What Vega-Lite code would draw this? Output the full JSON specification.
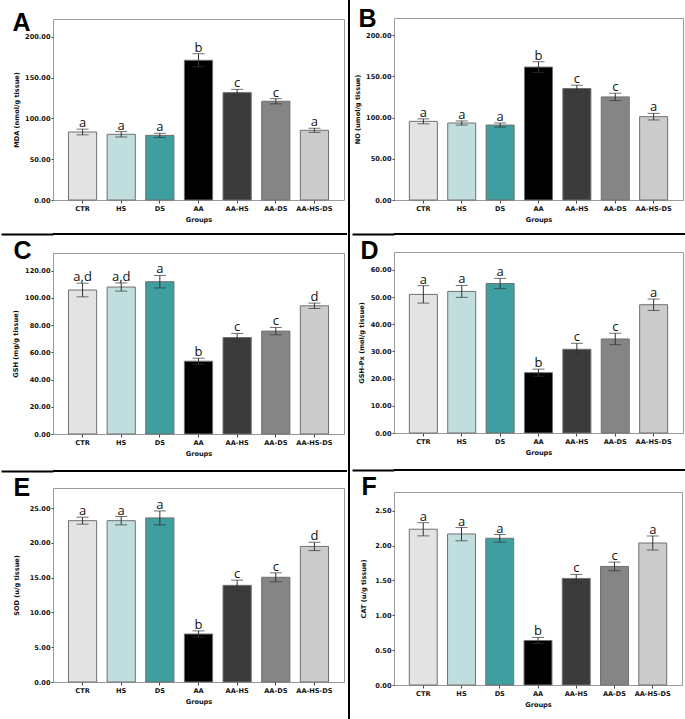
{
"$schema":"https://vega.github.io/schema/vega-lite/v6.json",
"padding":{"left":0,"top":0,"right":0,"bottom":0},
"background":"white",
"datasets":{
"A":[{"group":"CTR","mean":83.4,"lo":79.9,"hi":86.9,"letter":"a"},{"group":"HS","mean":80.6,"lo":77.3,"hi":83.9,"letter":"a"},{"group":"DS","mean":79.3,"lo":76.8,"hi":81.8,"letter":"a"},{"group":"AA","mean":171.4,"lo":163.4,"hi":179.4,"letter":"b"},{"group":"AA-HS","mean":131.7,"lo":127.7,"hi":135.7,"letter":"c"},{"group":"AA-DS","mean":121.1,"lo":117.9,"hi":124.3,"letter":"c"},{"group":"AA-HS-DS","mean":85.5,"lo":83,"hi":88,"letter":"a"}],
"B":[{"group":"CTR","mean":95.5,"lo":92.5,"hi":98.5,"letter":"a"},{"group":"HS","mean":93.5,"lo":91,"hi":96,"letter":"a"},{"group":"DS","mean":91,"lo":88.5,"hi":93.5,"letter":"a"},{"group":"AA","mean":161.4,"lo":154.9,"hi":167.9,"letter":"b"},{"group":"AA-HS","mean":135.4,"lo":131.4,"hi":139.4,"letter":"c"},{"group":"AA-DS","mean":125.2,"lo":120.7,"hi":129.7,"letter":"c"},{"group":"AA-HS-DS","mean":101.2,"lo":97.2,"hi":105.2,"letter":"a"}],
"C":[{"group":"CTR","mean":105.8,"lo":100.8,"hi":110.8,"letter":"a,d"},{"group":"HS","mean":108,"lo":105,"hi":111,"letter":"a,d"},{"group":"DS","mean":111.9,"lo":107.3,"hi":116.5,"letter":"a"},{"group":"AA","mean":53.5,"lo":51.3,"hi":55.7,"letter":"b"},{"group":"AA-HS","mean":70.9,"lo":67.9,"hi":73.9,"letter":"c"},{"group":"AA-DS","mean":75.6,"lo":72.9,"hi":78.3,"letter":"c"},{"group":"AA-HS-DS","mean":94.2,"lo":92.2,"hi":96.2,"letter":"d"}],
"D":[{"group":"CTR","mean":51,"lo":47.8,"hi":54.2,"letter":"a"},{"group":"HS","mean":52.1,"lo":49.9,"hi":54.3,"letter":"a"},{"group":"DS","mean":55,"lo":53.1,"hi":56.9,"letter":"a"},{"group":"AA","mean":22.2,"lo":20.9,"hi":23.5,"letter":"b"},{"group":"AA-HS","mean":30.8,"lo":28.6,"hi":33,"letter":"c"},{"group":"AA-DS","mean":34.6,"lo":32.5,"hi":36.7,"letter":"c"},{"group":"AA-HS-DS","mean":47.2,"lo":45.1,"hi":49.3,"letter":"a"}],
"E":[{"group":"CTR","mean":23.2,"lo":22.7,"hi":23.7,"letter":"a"},{"group":"HS","mean":23.2,"lo":22.6,"hi":23.8,"letter":"a"},{"group":"DS","mean":23.6,"lo":22.6,"hi":24.6,"letter":"a"},{"group":"AA","mean":6.9,"lo":6.45,"hi":7.35,"letter":"b"},{"group":"AA-HS","mean":13.9,"lo":13.15,"hi":14.65,"letter":"c"},{"group":"AA-DS","mean":15.06,"lo":14.4,"hi":15.7,"letter":"c"},{"group":"AA-HS-DS","mean":19.5,"lo":18.9,"hi":20.1,"letter":"d"}],
"F":[{"group":"CTR","mean":2.236,"lo":2.14,"hi":2.33,"letter":"a"},{"group":"HS","mean":2.168,"lo":2.07,"hi":2.26,"letter":"a"},{"group":"DS","mean":2.106,"lo":2.05,"hi":2.16,"letter":"a"},{"group":"AA","mean":0.639,"lo":0.595,"hi":0.683,"letter":"b"},{"group":"AA-HS","mean":1.529,"lo":1.47,"hi":1.587,"letter":"c"},{"group":"AA-DS","mean":1.702,"lo":1.64,"hi":1.764,"letter":"c"},{"group":"AA-HS-DS","mean":2.038,"lo":1.938,"hi":2.139,"letter":"a"}],
"blank":[{}]
},
"concat":[
{"concat":[
 {"width":294,"height":7,"data":{"name":"blank"},"mark":{"type":"point","size":0,"opacity":0},"view":{"stroke":null}},
 {"width":291,"height":181,"data":{"name":"A"},"resolve":{"axis":{"x":"independent"}},
  "layer":[
   {"mark":{"type":"bar","stroke":"#707070","strokeWidth":1},"encoding":{"x":{"field":"group","type":"nominal","sort":["CTR","HS","DS","AA","AA-HS","AA-DS","AA-HS-DS"],"scale":{"paddingInner":0.27,"paddingOuter":0.4},"axis":{"title":"Groups","labelAngle":0,"tickSize":3,"labelPadding":2,"titlePadding":5}},"y":{"field":"mean","type":"quantitative","title":"MDA (nmol/g tissue)","scale":{"domain":[0,222],"nice":false},"axis":{"values":[0,50,100,150,200],"format":".2f","tickSize":2,"labelPadding":1,"titlePadding":5,"labelOverlap":false}},"color":{"field":"group","type":"nominal","scale":{"domain":["CTR","HS","DS","AA","AA-HS","AA-DS","AA-HS-DS"],"range":["#e3e3e3","#c0dede","#3f9ea0","#000000","#3b3b3b","#858585","#cbcbcb"]},"legend":null}}},
   {"mark":{"type":"errorbar","ticks":{"size":12,"color":"#333"},"rule":{"color":"#333"}},"encoding":{"x":{"field":"group","type":"nominal","sort":["CTR","HS","DS","AA","AA-HS","AA-DS","AA-HS-DS"],"axis":null},"y":{"field":"lo","type":"quantitative","title":"MDA (nmol/g tissue)","axis":{"values":[0,50,100,150,200],"format":".2f","tickSize":2,"labelPadding":1,"titlePadding":5,"labelOverlap":false}},"y2":{"field":"hi"}}},
   {"mark":{"type":"text","baseline":"alphabetic","dy":-2,"font":"Open Sans","fontSize":13,"color":"#111"},"encoding":{"x":{"field":"group","type":"nominal","sort":["CTR","HS","DS","AA","AA-HS","AA-DS","AA-HS-DS"],"axis":{"orient":"top","title":"A","labels":false,"ticks":false,"domain":false,"titleX":-41,"titleY":11,"titleAngle":0,"titleAlign":"left","titleBaseline":"alphabetic","titleFont":"Liberation Sans","titleFontSize":25,"titleFontWeight":"bold","titleColor":"#000"}},"y":{"field":"hi","type":"quantitative","title":"MDA (nmol/g tissue)","axis":{"values":[0,50,100,150,200],"format":".2f","tickSize":2,"labelPadding":1,"titlePadding":5,"labelOverlap":false}},"text":{"field":"letter"}}}
  ]},
 {"width":294,"height":2,"data":{"name":"blank"},"mark":{"type":"point","size":0,"opacity":0},"encoding":{"y":{"datum":0.5,"type":"quantitative","scale":{"domain":[0,1]},"axis":{"values":[0.5],"tickSize":52,"tickWidth":2,"tickColor":"#000","labels":false,"domain":false,"title":null}}},"view":{"fill":"black","stroke":null},"title":{"text":".","color":"white","fontSize":5,"offset":2}},
 {"width":291,"height":181,"data":{"name":"C"},"resolve":{"axis":{"x":"independent"}},
  "layer":[
   {"mark":{"type":"bar","stroke":"#707070","strokeWidth":1},"encoding":{"x":{"field":"group","type":"nominal","sort":["CTR","HS","DS","AA","AA-HS","AA-DS","AA-HS-DS"],"scale":{"paddingInner":0.27,"paddingOuter":0.4},"axis":{"title":"Groups","labelAngle":0,"tickSize":3,"labelPadding":2,"titlePadding":5}},"y":{"field":"mean","type":"quantitative","title":"GSH (mg/g tissue)","scale":{"domain":[0,133],"nice":false},"axis":{"values":[0,20,40,60,80,100,120],"format":".2f","tickSize":2,"labelPadding":1,"titlePadding":6,"labelOverlap":false}},"color":{"field":"group","type":"nominal","scale":{"domain":["CTR","HS","DS","AA","AA-HS","AA-DS","AA-HS-DS"],"range":["#e3e3e3","#c0dede","#3f9ea0","#000000","#3b3b3b","#858585","#cbcbcb"]},"legend":null}}},
   {"mark":{"type":"errorbar","ticks":{"size":12,"color":"#333"},"rule":{"color":"#333"}},"encoding":{"x":{"field":"group","type":"nominal","sort":["CTR","HS","DS","AA","AA-HS","AA-DS","AA-HS-DS"],"axis":null},"y":{"field":"lo","type":"quantitative","title":"GSH (mg/g tissue)","axis":{"values":[0,20,40,60,80,100,120],"format":".2f","tickSize":2,"labelPadding":1,"titlePadding":6,"labelOverlap":false}},"y2":{"field":"hi"}}},
   {"mark":{"type":"text","baseline":"alphabetic","dy":-2,"font":"Open Sans","fontSize":13,"color":"#111"},"encoding":{"x":{"field":"group","type":"nominal","sort":["CTR","HS","DS","AA","AA-HS","AA-DS","AA-HS-DS"],"axis":{"orient":"top","title":"C","labels":false,"ticks":false,"domain":false,"titleX":-40,"titleY":5,"titleAngle":0,"titleAlign":"left","titleBaseline":"alphabetic","titleFont":"Liberation Sans","titleFontSize":25,"titleFontWeight":"bold","titleColor":"#000"}},"y":{"field":"hi","type":"quantitative","title":"GSH (mg/g tissue)","axis":{"values":[0,20,40,60,80,100,120],"format":".2f","tickSize":2,"labelPadding":1,"titlePadding":6,"labelOverlap":false}},"text":{"field":"letter"}}}
  ]},
 {"width":294,"height":2,"data":{"name":"blank"},"mark":{"type":"point","size":0,"opacity":0},"encoding":{"y":{"datum":0.5,"type":"quantitative","scale":{"domain":[0,1]},"axis":{"values":[0.5],"tickSize":52,"tickWidth":2,"tickColor":"#000","labels":false,"domain":false,"title":null}}},"view":{"fill":"black","stroke":null},"title":{"text":".","color":"white","fontSize":8,"offset":2}},
 {"width":291,"height":194,"data":{"name":"E"},"resolve":{"axis":{"x":"independent"}},
  "layer":[
   {"mark":{"type":"bar","stroke":"#707070","strokeWidth":1},"encoding":{"x":{"field":"group","type":"nominal","sort":["CTR","HS","DS","AA","AA-HS","AA-DS","AA-HS-DS"],"scale":{"paddingInner":0.27,"paddingOuter":0.4},"axis":{"title":"Groups","labelAngle":0,"tickSize":3,"labelPadding":2,"titlePadding":5}},"y":{"field":"mean","type":"quantitative","title":"SOD (u/g tissue)","scale":{"domain":[0,27.9],"nice":false},"axis":{"values":[0,5,10,15,20,25],"format":".2f","tickSize":2,"labelPadding":1,"titlePadding":10,"labelOverlap":false}},"color":{"field":"group","type":"nominal","scale":{"domain":["CTR","HS","DS","AA","AA-HS","AA-DS","AA-HS-DS"],"range":["#e3e3e3","#c0dede","#3f9ea0","#000000","#3b3b3b","#858585","#cbcbcb"]},"legend":null}}},
   {"mark":{"type":"errorbar","ticks":{"size":12,"color":"#333"},"rule":{"color":"#333"}},"encoding":{"x":{"field":"group","type":"nominal","sort":["CTR","HS","DS","AA","AA-HS","AA-DS","AA-HS-DS"],"axis":null},"y":{"field":"lo","type":"quantitative","title":"SOD (u/g tissue)","axis":{"values":[0,5,10,15,20,25],"format":".2f","tickSize":2,"labelPadding":1,"titlePadding":10,"labelOverlap":false}},"y2":{"field":"hi"}}},
   {"mark":{"type":"text","baseline":"alphabetic","dy":-2,"font":"Open Sans","fontSize":13,"color":"#111"},"encoding":{"x":{"field":"group","type":"nominal","sort":["CTR","HS","DS","AA","AA-HS","AA-DS","AA-HS-DS"],"axis":{"orient":"top","title":"E","labels":false,"ticks":false,"domain":false,"titleX":-40,"titleY":7,"titleAngle":0,"titleAlign":"left","titleBaseline":"alphabetic","titleFont":"Liberation Sans","titleFontSize":25,"titleFontWeight":"bold","titleColor":"#000"}},"y":{"field":"hi","type":"quantitative","title":"SOD (u/g tissue)","axis":{"values":[0,5,10,15,20,25],"format":".2f","tickSize":2,"labelPadding":1,"titlePadding":10,"labelOverlap":false}},"text":{"field":"letter"}}}
  ]}
],"columns":1,"align":"none","spacing":2},
{"width":2,"height":719,"data":{"name":"blank"},"mark":{"type":"point","size":0,"opacity":0},"view":{"fill":"black","stroke":null}},
{"concat":[
 {"width":293,"height":3,"data":{"name":"blank"},"mark":{"type":"point","size":0,"opacity":0},"view":{"stroke":null}},
 {"width":289,"height":182,"data":{"name":"B"},"resolve":{"axis":{"x":"independent"}},
  "layer":[
   {"mark":{"type":"bar","stroke":"#707070","strokeWidth":1},"encoding":{"x":{"field":"group","type":"nominal","sort":["CTR","HS","DS","AA","AA-HS","AA-DS","AA-HS-DS"],"scale":{"paddingInner":0.27,"paddingOuter":0.4},"axis":{"title":"Groups","labelAngle":0,"tickSize":3,"labelPadding":2,"titlePadding":5}},"y":{"field":"mean","type":"quantitative","title":"NO (umol/g tissue)","scale":{"domain":[0,221],"nice":false},"axis":{"values":[0,50,100,150,200],"format":".2f","tickSize":2,"labelPadding":1,"titlePadding":5,"labelOverlap":false}},"color":{"field":"group","type":"nominal","scale":{"domain":["CTR","HS","DS","AA","AA-HS","AA-DS","AA-HS-DS"],"range":["#e3e3e3","#c0dede","#3f9ea0","#000000","#3b3b3b","#858585","#cbcbcb"]},"legend":null}}},
   {"mark":{"type":"errorbar","ticks":{"size":12,"color":"#333"},"rule":{"color":"#333"}},"encoding":{"x":{"field":"group","type":"nominal","sort":["CTR","HS","DS","AA","AA-HS","AA-DS","AA-HS-DS"],"axis":null},"y":{"field":"lo","type":"quantitative","title":"NO (umol/g tissue)","axis":{"values":[0,50,100,150,200],"format":".2f","tickSize":2,"labelPadding":1,"titlePadding":5,"labelOverlap":false}},"y2":{"field":"hi"}}},
   {"mark":{"type":"text","baseline":"alphabetic","dy":-2,"font":"Open Sans","fontSize":13,"color":"#111"},"encoding":{"x":{"field":"group","type":"nominal","sort":["CTR","HS","DS","AA","AA-HS","AA-DS","AA-HS-DS"],"axis":{"orient":"top","title":"B","labels":false,"ticks":false,"domain":false,"titleX":-36,"titleY":8,"titleAngle":0,"titleAlign":"left","titleBaseline":"alphabetic","titleFont":"Liberation Sans","titleFontSize":25,"titleFontWeight":"bold","titleColor":"#000"}},"y":{"field":"hi","type":"quantitative","title":"NO (umol/g tissue)","axis":{"values":[0,50,100,150,200],"format":".2f","tickSize":2,"labelPadding":1,"titlePadding":5,"labelOverlap":false}},"text":{"field":"letter"}}}
  ]},
 {"width":293,"height":2,"data":{"name":"blank"},"mark":{"type":"point","size":0,"opacity":0},"encoding":{"y":{"datum":0.5,"type":"quantitative","scale":{"domain":[0,1]},"axis":{"values":[0.5],"tickSize":42,"tickWidth":2,"tickColor":"#000","labels":false,"domain":false,"title":null}}},"view":{"fill":"black","stroke":null},"title":{"text":".","color":"white","fontSize":5,"offset":2}},
 {"width":289,"height":181,"data":{"name":"D"},"resolve":{"axis":{"x":"independent"}},
  "layer":[
   {"mark":{"type":"bar","stroke":"#707070","strokeWidth":1},"encoding":{"x":{"field":"group","type":"nominal","sort":["CTR","HS","DS","AA","AA-HS","AA-DS","AA-HS-DS"],"scale":{"paddingInner":0.27,"paddingOuter":0.4},"axis":{"title":"Groups","labelAngle":0,"tickSize":3,"labelPadding":2,"titlePadding":5}},"y":{"field":"mean","type":"quantitative","title":"GSH-Px (mol/g tissue)","scale":{"domain":[0,66.6],"nice":false},"axis":{"values":[0,10,20,30,40,50,60],"format":".2f","tickSize":2,"labelPadding":1,"titlePadding":6,"labelOverlap":false}},"color":{"field":"group","type":"nominal","scale":{"domain":["CTR","HS","DS","AA","AA-HS","AA-DS","AA-HS-DS"],"range":["#e3e3e3","#c0dede","#3f9ea0","#000000","#3b3b3b","#858585","#cbcbcb"]},"legend":null}}},
   {"mark":{"type":"errorbar","ticks":{"size":12,"color":"#333"},"rule":{"color":"#333"}},"encoding":{"x":{"field":"group","type":"nominal","sort":["CTR","HS","DS","AA","AA-HS","AA-DS","AA-HS-DS"],"axis":null},"y":{"field":"lo","type":"quantitative","title":"GSH-Px (mol/g tissue)","axis":{"values":[0,10,20,30,40,50,60],"format":".2f","tickSize":2,"labelPadding":1,"titlePadding":6,"labelOverlap":false}},"y2":{"field":"hi"}}},
   {"mark":{"type":"text","baseline":"alphabetic","dy":-2,"font":"Open Sans","fontSize":13,"color":"#111"},"encoding":{"x":{"field":"group","type":"nominal","sort":["CTR","HS","DS","AA","AA-HS","AA-DS","AA-HS-DS"],"axis":{"orient":"top","title":"D","labels":false,"ticks":false,"domain":false,"titleX":-34,"titleY":6,"titleAngle":0,"titleAlign":"left","titleBaseline":"alphabetic","titleFont":"Liberation Sans","titleFontSize":25,"titleFontWeight":"bold","titleColor":"#000"}},"y":{"field":"hi","type":"quantitative","title":"GSH-Px (mol/g tissue)","axis":{"values":[0,10,20,30,40,50,60],"format":".2f","tickSize":2,"labelPadding":1,"titlePadding":6,"labelOverlap":false}},"text":{"field":"letter"}}}
  ]},
 {"width":293,"height":2,"data":{"name":"blank"},"mark":{"type":"point","size":0,"opacity":0},"encoding":{"y":{"datum":0.5,"type":"quantitative","scale":{"domain":[0,1]},"axis":{"values":[0.5],"tickSize":42,"tickWidth":2,"tickColor":"#000","labels":false,"domain":false,"title":null}}},"view":{"fill":"black","stroke":null},"title":{"text":".","color":"white","fontSize":8,"offset":2}},
 {"width":288,"height":193,"data":{"name":"F"},"resolve":{"axis":{"x":"independent"}},
  "layer":[
   {"mark":{"type":"bar","stroke":"#707070","strokeWidth":1},"encoding":{"x":{"field":"group","type":"nominal","sort":["CTR","HS","DS","AA","AA-HS","AA-DS","AA-HS-DS"],"scale":{"paddingInner":0.27,"paddingOuter":0.4},"axis":{"title":"Groups","labelAngle":0,"tickSize":3,"labelPadding":2,"titlePadding":5}},"y":{"field":"mean","type":"quantitative","title":"CAT (u/g tissue)","scale":{"domain":[0,2.77],"nice":false},"axis":{"values":[0,0.5,1,1.5,2,2.5],"format":".2f","tickSize":2,"labelPadding":1,"titlePadding":8.7,"labelOverlap":false}},"color":{"field":"group","type":"nominal","scale":{"domain":["CTR","HS","DS","AA","AA-HS","AA-DS","AA-HS-DS"],"range":["#e3e3e3","#c0dede","#3f9ea0","#000000","#3b3b3b","#858585","#cbcbcb"]},"legend":null}}},
   {"mark":{"type":"errorbar","ticks":{"size":12,"color":"#333"},"rule":{"color":"#333"}},"encoding":{"x":{"field":"group","type":"nominal","sort":["CTR","HS","DS","AA","AA-HS","AA-DS","AA-HS-DS"],"axis":null},"y":{"field":"lo","type":"quantitative","title":"CAT (u/g tissue)","axis":{"values":[0,0.5,1,1.5,2,2.5],"format":".2f","tickSize":2,"labelPadding":1,"titlePadding":8.7,"labelOverlap":false}},"y2":{"field":"hi"}}},
   {"mark":{"type":"text","baseline":"alphabetic","dy":-2,"font":"Open Sans","fontSize":13,"color":"#111"},"encoding":{"x":{"field":"group","type":"nominal","sort":["CTR","HS","DS","AA","AA-HS","AA-DS","AA-HS-DS"],"axis":{"orient":"top","title":"F","labels":false,"ticks":false,"domain":false,"titleX":-33,"titleY":2,"titleAngle":0,"titleAlign":"left","titleBaseline":"alphabetic","titleFont":"Liberation Sans","titleFontSize":25,"titleFontWeight":"bold","titleColor":"#000"}},"y":{"field":"hi","type":"quantitative","title":"CAT (u/g tissue)","axis":{"values":[0,0.5,1,1.5,2,2.5],"format":".2f","tickSize":2,"labelPadding":1,"titlePadding":8.7,"labelOverlap":false}},"text":{"field":"letter"}}}
  ]}
],"columns":1,"align":"none","spacing":2}
],
"columns":3,"align":"none","spacing":1,
"config":{
 "view":{"stroke":"#9a9a9a","strokeWidth":1},
 "axis":{"labelFont":"DejaVu Sans","labelFontWeight":"bold","labelFontSize":6.6,"labelColor":"#111","titleFont":"DejaVu Sans","titleFontWeight":"bold","titleFontSize":6.6,"titleColor":"#111","domain":false,"grid":false,"tickColor":"#444","labelOverlap":false}
}
}
